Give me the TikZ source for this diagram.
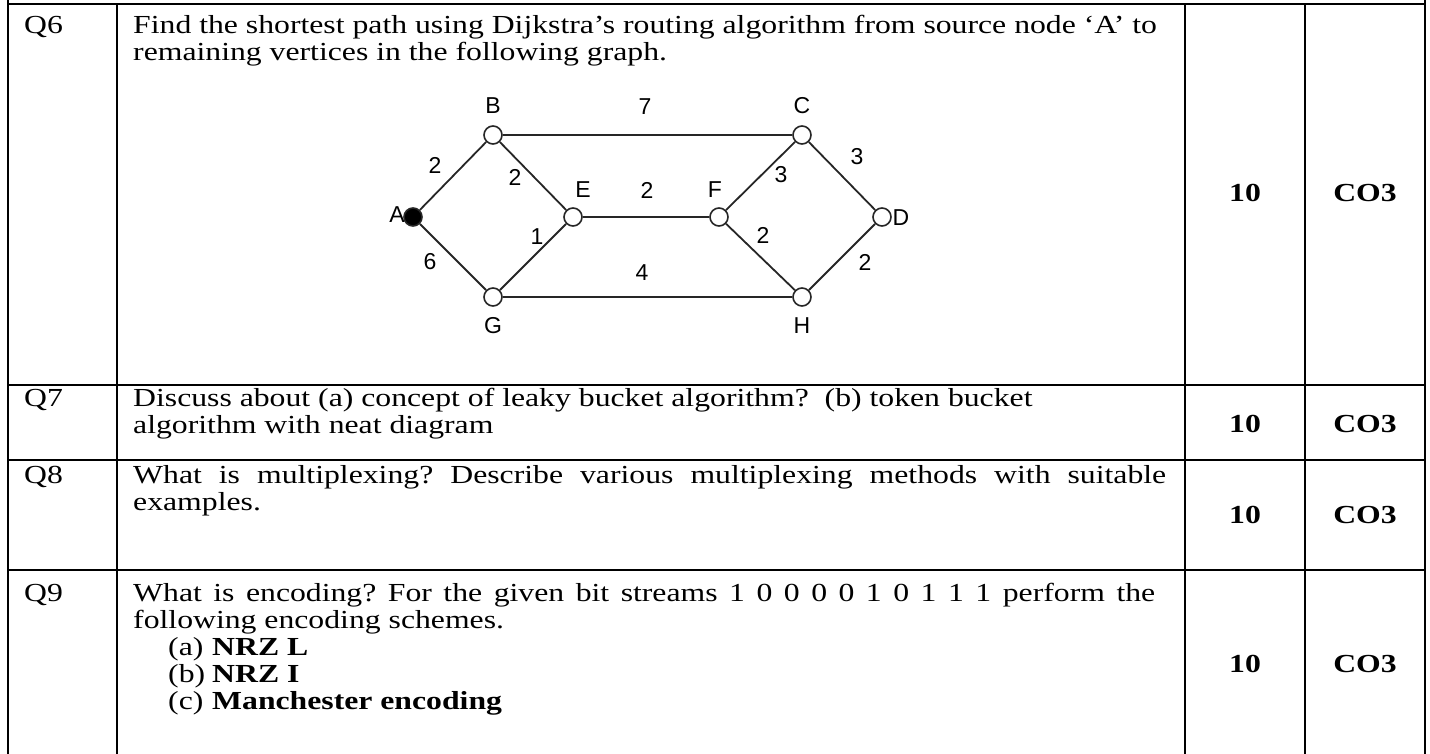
\documentclass[tikz,border=0pt]{standalone}
\usepackage{fontspec}
\setmainfont{Liberation Serif}[FakeStretch=1.22]
\newfontfamily\graphfont{Liberation Sans}
\frenchspacing
\begin{document}
\begin{tikzpicture}[x=1pt,y=-1pt,
  rule/.style={line width=2.4pt, line cap=butt},
  txt/.style={anchor=base west, inner sep=0pt, font=\fontsize{26}{27}\selectfont},
  score/.style={anchor=base, inner sep=0pt, font=\fontsize{26}{27}\selectfont\bfseries},
  vtx/.style={circle, draw=black!85, fill=white, minimum size=18pt, inner sep=0pt, line width=1.6pt},
  src/.style={vtx, fill=black},
  lbl/.style={inner sep=0pt, font=\graphfont\fontsize{23}{23}\selectfont},
  edge/.style={line width=1.8pt, draw=black!85}]
\useasboundingbox (0,0) rectangle (1430,754);

% table rules
\draw[rule] (8,0) -- (8,754);
\draw[rule] (1425,0) -- (1425,754);
\draw[rule] (117,4) -- (117,754);
\draw[rule] (1185,4) -- (1185,754);
\draw[rule] (1305,4) -- (1305,754);
\foreach \yy in {4,385,460,570} \draw[rule] (8,\yy) -- (1425,\yy);

% question numbers
\node[txt] (q6) at (24,34) {Q6};
\node[txt] (q7) at (24,406) {Q7};
\node[txt] (q8) at (24,483) {Q8};
\node[txt] (q9) at (24,601) {Q9};

% Q6
\node[txt] (q6a) at (133,34) {Find the shortest path using Dijkstra’s routing algorithm from source node ‘A’ to};
\node[txt] (q6b) at (133,61) {remaining vertices in the following graph.};

% graph
\node[src] (A) at (413,217) {};
\node[vtx] (B) at (493,135) {};
\node[vtx] (C) at (802,135) {};
\node[vtx] (E) at (573,217) {};
\node[vtx] (F) at (719,217) {};
\node[vtx] (D) at (882,217) {};
\node[vtx] (G) at (493,297) {};
\node[vtx] (H) at (802,297) {};
\draw[edge] (A) -- (B);
\draw[edge] (A) -- (G);
\draw[edge] (B) -- (C);
\draw[edge] (B) -- (E);
\draw[edge] (G) -- (E);
\draw[edge] (G) -- (H);
\draw[edge] (E) -- (F);
\draw[edge] (F) -- (C);
\draw[edge] (F) -- (H);
\draw[edge] (C) -- (D);
\draw[edge] (H) -- (D);

\node[lbl] (lA) at (397,215) {A};
\node[lbl] (lB) at (493,106) {B};
\node[lbl] (lC) at (802,106) {C};
\node[lbl] (lE) at (583,190) {E};
\node[lbl] (lF) at (715,190) {F};
\node[lbl] (lD) at (901,218) {D};
\node[lbl] (lG) at (493,326) {G};
\node[lbl] (lH) at (802,326) {H};

\node[lbl] (wBC) at (645,107) {7};
\node[lbl] (wAB) at (435,165) {2};
\node[lbl] (wBE) at (515,177) {2};
\node[lbl] (wEF) at (647,190) {2};
\node[lbl] (wFC) at (781,175) {3};
\node[lbl] (wCD) at (857,157) {3};
\node[lbl] (wEG) at (537,237) {1};
\node[lbl] (wAG) at (430,262) {6};
\node[lbl] (wGH) at (642,273) {4};
\node[lbl] (wFH) at (763,235) {2};
\node[lbl] (wDH) at (865,262) {2};

% Q7
\node[txt] (q7a) at (133,406) {Discuss about (a) concept of leaky bucket algorithm?~ (b) token bucket};
\node[txt] (q7b) at (133,433) {algorithm with neat diagram};

% Q8
\node[txt] (q8a) at (133,483) {\makebox[1033pt][s]{What is multiplexing? Describe various multiplexing methods with suitable}};
\node[txt] (q8b) at (133,510) {examples.};

% Q9
\node[txt] (q9a) at (133,601) {\makebox[1022pt][s]{What is encoding? For the given bit streams 1 0 0 0 0 1 0 1 1 1 perform the}};
\node[txt] (q9b) at (133,628) {following encoding schemes.};
\node[txt] (q9c) at (168,655) {(a)};
\node[txt] (q9cc) at (212,655) {\bfseries NRZ L};
\node[txt] (q9d) at (168,682) {(b)};
\node[txt] (q9dd) at (212,682) {\bfseries NRZ I};
\node[txt] (q9e) at (168,709) {(c)};
\node[txt] (q9ee) at (212,709) {\bfseries Manchester encoding};

% marks and course outcomes
\node[score] (m6) at (1245,202) {10};
\node[score] (c6) at (1365,202) {CO3};
\node[score] (m7) at (1245,432) {10};
\node[score] (c7) at (1365,432) {CO3};
\node[score] (m8) at (1245,523) {10};
\node[score] (c8) at (1365,523) {CO3};
\node[score] (m9) at (1245,672) {10};
\node[score] (c9) at (1365,672) {CO3};
\end{tikzpicture}
\end{document}
